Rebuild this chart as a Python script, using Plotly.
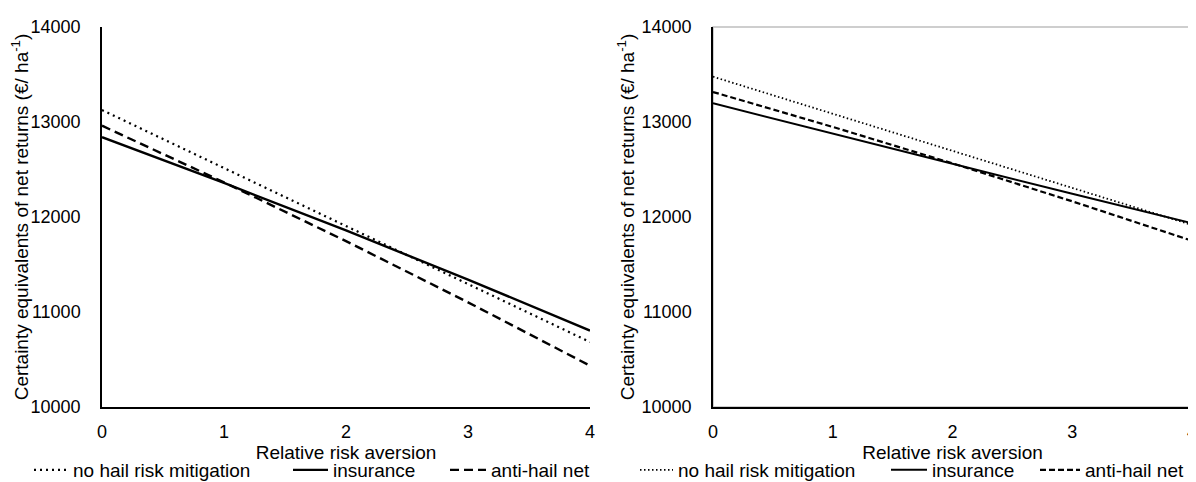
import plotly.graph_objects as go

# ---- data ----
rra = [0, 1, 2, 3, 4]
left_no_mitigation = [13126, 12516, 11905, 11295, 10684]
left_insurance = [12840, 12358, 11858, 11341, 10805]
left_antihail = [12961, 12365, 11746, 11102, 10435]
right_no_mitigation = [13477, 13087, 12697, 12306, 11916]
right_insurance = [13197, 12876, 12560, 12245, 11934]
right_antihail = [13316, 12948, 12565, 12165, 11750]
series_names = ["no hail risk mitigation", "insurance", "anti-hail net"]
x_ticks = [0, 1, 2, 3, 4]
x_tick_labels = ["0", "1", "2", "3", "4"]
y_ticks = [10000, 11000, 12000, 13000, 14000]
y_tick_labels = ["10000", "11000", "12000", "13000", "14000"]
x_title = "Relative risk aversion"
y_title = "Certainty equivalents of net returns (€/ ha<sup>-1</sup>)"

# the page has an 8px body margin, so the figure is drawn 8px in from the window corner
OFF = 8
W, H = 1196 - OFF, 482 - OFF
FONT = "Liberation Sans, Arial, sans-serif"


def px_x(p):
    return (p - OFF) / W


def px_y(p):
    return 1 - (p - OFF) / H


fig = go.Figure()

left_styles = [dict(dash="2px,4px", width=2.2), dict(dash="solid", width=2.4),
               dict(dash="9px,5px", width=2.4)]
right_styles = [dict(dash="1.5px,2.5px", width=1.8), dict(dash="solid", width=2.0),
                dict(dash="6px,3px", width=2.2)]

left_series = [left_no_mitigation, left_insurance, left_antihail]
right_series = [right_no_mitigation, right_insurance, right_antihail]

for i, (name, ys, st) in enumerate(zip(series_names, left_series, left_styles)):
    fig.add_trace(go.Scatter(x=rra, y=ys, mode="lines", name=name,
                             line=dict(color="black", **st),
                             xaxis="x", yaxis="y",
                             legend="legend" if i == 0 else f"legend{i+1}"))
for i, (name, ys, st) in enumerate(zip(series_names, right_series, right_styles)):
    fig.add_trace(go.Scatter(x=rra, y=ys, mode="lines", name=name,
                             line=dict(color="black", **st),
                             xaxis="x2", yaxis="y2",
                             legend=f"legend{i+4}"))

axis_common = dict(showgrid=False, zeroline=False, ticks="", showline=True,
                   linecolor="black", linewidth=1.5, ticklabeloverflow="allow",
                   tickfont=dict(family=FONT, size=18, color="black"))
title_font = dict(family=FONT, size=19, color="black")

fig.update_layout(
    width=W, height=H,
    margin=dict(l=0, r=0, t=0, b=0, autoexpand=False),
    paper_bgcolor="white", plot_bgcolor="white",
    font=dict(family=FONT, size=18, color="black"),
    xaxis=dict(domain=[px_x(102), px_x(590)], range=[0, 4], tickvals=x_ticks,
               ticktext=x_tick_labels, anchor="y", ticklabelstandoff=8,
               title=dict(text=x_title, standoff=0, font=title_font),
               **axis_common),
    yaxis=dict(domain=[px_y(407), px_y(27)], range=[10000, 14000], tickvals=y_ticks,
               ticktext=y_tick_labels, anchor="x", ticklabelstandoff=16,
               title=dict(text=y_title, standoff=2, font=title_font),
               **axis_common),
    xaxis2=dict(domain=[px_x(713), px_x(1192)], range=[0, 4], tickvals=x_ticks,
                ticktext=x_tick_labels, anchor="y2", ticklabelstandoff=8,
                title=dict(text=x_title, standoff=0, font=title_font),
                **axis_common),
    yaxis2=dict(domain=[px_y(407), px_y(27)], range=[10000, 14000], tickvals=y_ticks,
                ticktext=y_tick_labels, anchor="x2", ticklabelstandoff=16,
                title=dict(text=y_title, standoff=2, font=title_font),
                **axis_common),
    shapes=[dict(type="rect", xref="x2 domain", yref="y2 domain", x0=0, x1=1, y0=0, y1=1,
                 line=dict(color="#bfbfbf", width=1.5), layer="below")],
    showlegend=True,
)

# one legend per entry so each entry sits where the reference has it
legend_x = [29, 288, 445, 635, 886, 1035]
legend_itemw = [34, 35, 36, 33, 36, 40]
for i, lx in enumerate(legend_x):
    key = "legend" if i == 0 else f"legend{i+1}"
    fig.update_layout({key: dict(x=px_x(lx), y=px_y(470), xanchor="left", yanchor="middle",
                                 orientation="h", bgcolor="rgba(0,0,0,0)",
                                 font=dict(family=FONT, size=19, color="black"),
                                 itemwidth=legend_itemw[i], tracegroupgap=0)})

fig.write_html("out.html")
